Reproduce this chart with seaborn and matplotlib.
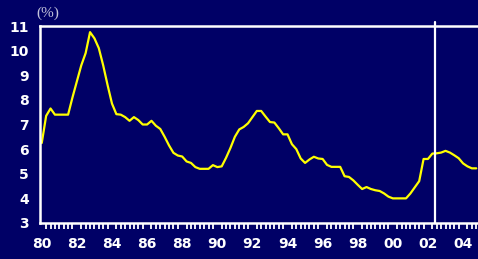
import numpy as np
import pandas as pd
import matplotlib
matplotlib.use("Agg")
import matplotlib.pyplot as plt
import seaborn as sns

# quarterly values, 1980Q1 .. 2004Q4 (%)
start_year = 1980
values = [
    6.25, 7.35, 7.65, 7.4,
    7.4, 7.4, 7.4, 8.1,
    8.75, 9.4, 9.9, 10.75,
    10.5, 10.1, 9.4, 8.6,
    7.85, 7.42, 7.4, 7.3,
    7.15, 7.3, 7.18, 7.0,
    7.0, 7.15, 6.95, 6.82,
    6.5, 6.15, 5.85, 5.74,
    5.7, 5.5, 5.44, 5.27,
    5.2, 5.2, 5.2, 5.35,
    5.27, 5.3, 5.65, 6.05,
    6.5, 6.8, 6.9, 7.05,
    7.3, 7.55, 7.55, 7.32,
    7.1, 7.08, 6.85, 6.6,
    6.6, 6.2, 6.0, 5.62,
    5.44, 5.58, 5.69, 5.62,
    5.6, 5.36, 5.28, 5.28,
    5.28, 4.9, 4.87, 4.73,
    4.55, 4.38, 4.46, 4.38,
    4.33, 4.3, 4.2, 4.07,
    4.0, 4.0, 4.0, 4.0,
    4.2, 4.45, 4.7, 5.6,
    5.6, 5.82, 5.83, 5.86,
    5.93, 5.86, 5.75, 5.63,
    5.42, 5.3, 5.22, 5.22,
]
tick_years = list(range(1980, 2005, 2))
tick_labels = ["%02d" % (y % 100) for y in tick_years]
y_ticks = list(range(3, 12))
marker_year = 2002.375

df = pd.DataFrame({"year": start_year + np.arange(len(values)) / 4.0,
                   "rate": values})

bg = "#000066"
sns.set_style("white")
plt.rcParams["font.family"] = ["DejaVu Sans"]

fig = plt.figure(figsize=(4.78, 2.59), dpi=100, facecolor=bg)
ax = fig.add_axes([40 / 478, 1 - 223 / 259, 438 / 478, 197 / 259])
ax.set_facecolor(bg)

sns.lineplot(data=df, x="year", y="rate", ax=ax, color="#ffff00", linewidth=1.6)
ax.axvline(marker_year, ymin=0, ymax=1.02, color="white", linewidth=1.6, clip_on=False)

ax.set_xlim(1979.9, 2004.85)
ax.set_ylim(3, 11)
ax.set_xticks(tick_years)
ax.set_xticklabels(tick_labels)
ax.set_xticks(np.arange(1980, 2005, 0.25), minor=True)
ax.set_yticks(y_ticks)
ax.set_xlabel("")
ax.set_ylabel("")

for s in ["left", "top", "bottom"]:
    ax.spines[s].set_color("white")
    ax.spines[s].set_linewidth(1.8)
ax.spines["right"].set_visible(False)

ax.tick_params(axis="both", colors="white", labelcolor="white", labelsize=10,
               direction="out", length=4, width=1.3)
ax.tick_params(axis="x", which="minor", colors="white", direction="out",
               length=4, width=1.3, bottom=True)
ax.tick_params(axis="x", pad=6)
ax.tick_params(axis="y", pad=4)
for lab in ax.get_xticklabels() + ax.get_yticklabels():
    lab.set_fontweight("bold")

fig.text(36 / 478, 1 - 13 / 259, "(%)", color="#c4c4dc", fontsize=11,
         family=["Liberation Serif"], va="center", ha="left")

fig.savefig("out.png", dpi=100, facecolor=bg)
